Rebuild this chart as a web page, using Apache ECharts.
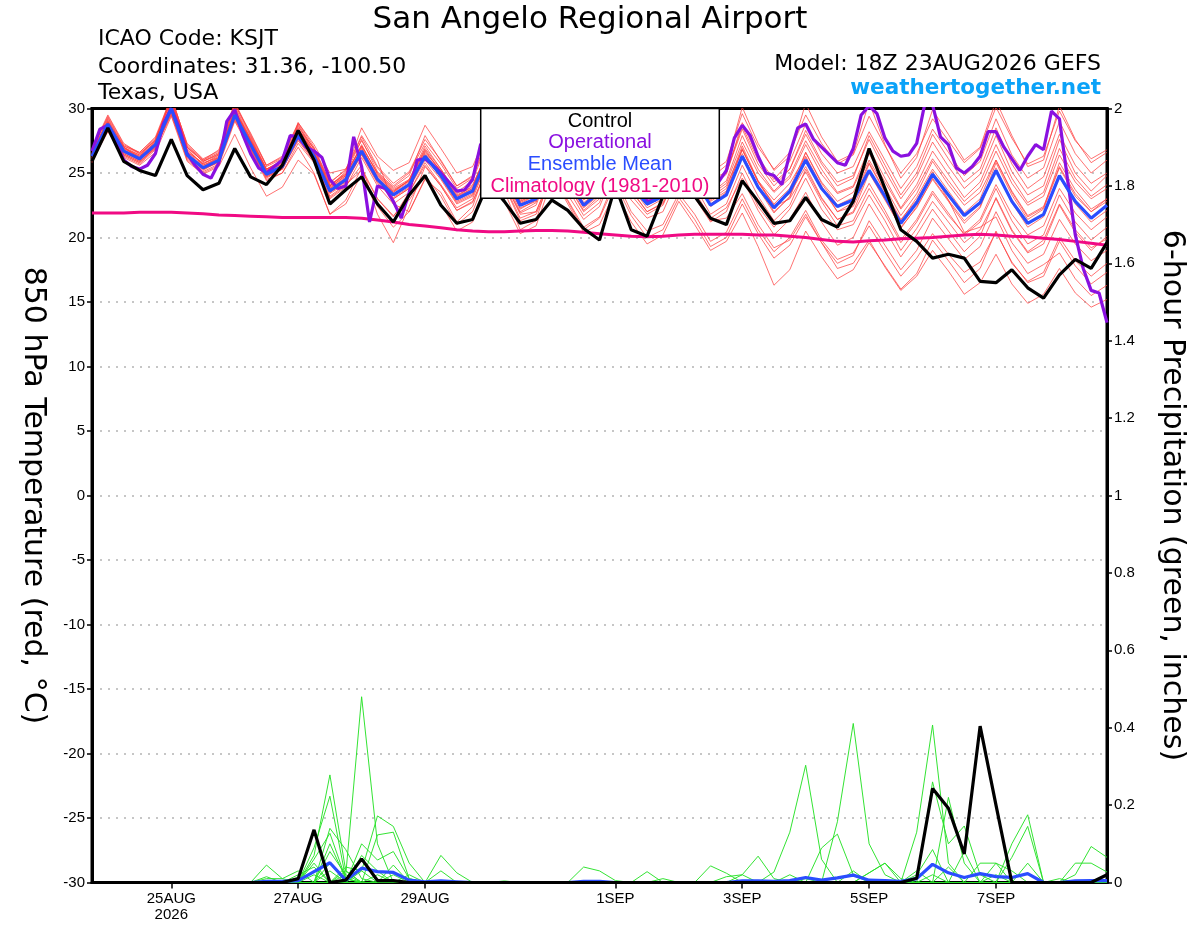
<!DOCTYPE html>
<html>
<head>
<meta charset="utf-8">
<script src="https://cdn.jsdelivr.net/npm/echarts@6/dist/echarts.min.js"></script>
<style>
html,body{margin:0;padding:0;background:#fff;}
#chart{width:1200px;height:927px;}
</style>
</head>
<body>
<div id="chart"></div>
<script>
// ---------------- DATA ----------------
// time axis: hours after 18Z 23AUG2026 (6-hourly steps for ensemble, 3-hourly for operational)
const tickHours = [30, 78, 126, 198, 246, 294, 342];
const tickLabels = ['25AUG\n2026', '27AUG', '29AUG', '1SEP', '3SEP', '5SEP', '7SEP'];

// 850 hPa temperature, 6-hourly (65 values)
const control = [25.9, 28.5,25.9,25.2,24.8, 27.6,24.8,23.7,24.2, 26.9,24.7,24.1,25.6, 28.3,26.0,22.6,23.7,
  24.7,22.6,21.2,23.3, 24.8,22.5,21.1,21.4, 24.3,22.8,21.1,21.4, 22.9,22.1,20.7,19.8,
  24.0,20.6,20.1,23.2, 24.5,23.2,21.5,21.0, 24.4,22.8,21.1,21.3, 23.1,21.4,20.8,22.8,
  26.9,23.8,20.6,19.7, 18.4,18.7,18.4,16.6, 16.5,17.5,16.1,15.3, 17.1,18.3,17.6,19.6];
const ensMean = [26.3, 28.8,26.7,26.1,27.2, 30.0,26.4,25.4,26.0, 29.5,27.2,24.9,25.5, 27.9,26.3,23.6,24.5,
  26.7,24.5,23.3,24.1, 26.3,24.8,23.0,23.6, 26.5,25.0,22.5,23.0, 26.0,24.5,22.5,23.5,
  26.5,24.0,22.6,23.2, 26.0,24.5,22.5,23.3, 26.3,23.9,22.3,23.6, 26.0,23.8,22.4,22.9,
  25.2,23.2,21.1,22.7, 24.9,23.3,21.7,22.7, 25.2,22.8,21.1,21.8, 24.8,22.8,21.5,22.5];
const climatology = [21.9, 21.9,21.9,21.95,21.95, 21.95,21.9,21.85,21.75, 21.7,21.65,21.6,21.55, 21.55,21.55,21.55,21.55,
  21.5,21.35,21.2,21.0, 20.9,20.75,20.6,20.5, 20.45,20.45,20.5,20.55, 20.55,20.5,20.4,20.3,
  20.2,20.1,20.05,20.1, 20.2,20.25,20.25,20.25, 20.25,20.2,20.2,20.1, 20.0,19.85,19.7,19.65,
  19.75,19.8,19.9,19.95, 20.0,20.1,20.2,20.25, 20.2,20.1,20.05,19.95, 19.85,19.7,19.55,19.4];
// operational, 3-hourly (129 values)
const operational = [
  26.7,28.4,28.7,27.5,26.0,25.5,25.3,25.6,
  26.5,28.8,30.0,28.5,26.5,25.6,24.9,24.6,
  25.8,29.0,29.9,28.0,26.5,25.4,25.0,25.5,
  26.0,27.9,27.8,27.0,26.7,26.2,24.5,23.8,
  24.0,27.8,25.5,21.2,24.0,23.8,22.8,21.5,
  23.5,26.0,26.1,25.6,25.0,24.3,23.6,23.7,
  24.5,27.2,28.0,27.0,25.5,24.3,23.5,23.8,
  24.3,26.5,27.5,26.8,25.5,24.3,23.6,23.6,
  24.2,26.5,27.4,26.6,25.0,23.8,22.8,22.9,
  23.8,26.2,27.0,26.4,25.2,24.2,23.5,24.3,
  25.2,27.7,28.7,27.9,26.3,25.0,24.8,24.1,
  26.5,28.5,28.8,27.6,27.0,26.4,25.8,25.6,
  26.9,29.5,30.2,29.6,27.7,26.7,26.3,26.4,
  27.3,30.3,30.3,27.8,27.2,25.4,25.0,25.5,
  26.3,28.2,28.2,27.0,26.1,25.2,26.3,27.2,
  26.8,29.8,29.2,24.6,20.2,17.6,15.9,15.7,
  13.4];

// ensemble members (6-hourly, 65 values each)
const ens01 = [26.0, 28.5,26.9,26.4,27.6, 30.6,27.0,25.9,26.5, 30.2,27.8,25.3,26.0, 28.4,26.9,24.2,25.3, 27.5,25.4,24.0,25.0, 27.3,25.7,23.8,24.6, 27.8,26.2,23.6,24.3, 27.5,25.8,23.8,24.9, 28.1,25.6,24.0,24.7, 27.8,26.2,24.1,25.0, 28.4,25.7,24.0,25.3, 28.3,25.9,24.3,24.8, 27.6,25.2,23.0,24.7, 27.4,25.5,23.8,24.9, 27.9,25.1,23.3,24.0, 27.6,25.0,23.6,24.8];
const ens02 = [26.5, 28.9,26.4,25.8,27.0, 29.6,26.0,25.0,25.6, 29.0,26.8,24.4,25.0, 27.0,25.0,21.8,22.6, 24.9,22.4,20.8,22.0, 24.6,22.6,20.5,21.2, 24.4,22.8,20.3,20.9, 24.5,22.9,20.8,21.6, 24.6,22.0,20.5,21.0, 23.4,21.8,19.7,20.4, 23.0,20.6,18.9,20.0, 22.1,19.8,18.3,18.8, 20.9,18.9,17.0,18.4, 20.3,18.7,17.3,18.1, 20.4,18.1,16.5,17.0, 19.7,17.8,16.4,17.3];
const ens03 = [26.8, 29.3,27.1,26.6,27.8, 30.9,27.2,26.0,26.8, 30.5,28.0,25.6,26.3, 28.8,26.8,24.0,25.0, 27.0,24.6,23.5,24.5, 27.1,25.3,23.5,24.4, 27.6,25.9,23.2,24.0, 27.3,25.5,23.4,24.6, 27.9,25.1,23.7,24.6, 27.9,26.1,23.9,24.9, 28.9,26.2,24.5,25.9, 28.8,26.5,25.0,25.5, 28.2,26.0,23.8,25.5, 28.4,26.6,24.8,25.9, 29.2,26.4,24.6,25.4, 29.0,26.5,25.0,26.0];
const ens04 = [25.9, 28.2,26.3,25.7,26.8, 29.8,26.1,25.1,25.7, 29.2,26.9,24.5,25.0, 27.3,25.8,23.0,23.9, 26.2,24.0,22.6,23.5, 25.6,24.0,22.1,22.8, 25.5,24.1,21.5,22.0, 25.0,23.3,21.4,22.4, 25.3,22.9,21.5,22.0, 24.8,23.1,21.2,22.0, 25.0,22.4,20.8,22.2, 24.6,22.2,20.6,21.0, 23.3,21.3,19.0,20.7, 22.8,21.2,19.6,20.6, 23.0,20.5,18.8,19.5, 22.5,20.4,19.0,20.1];
const ens05 = [26.4, 28.7,27.0,26.2,27.3, 30.2,26.6,25.8,26.2, 29.8,27.6,25.2,25.9, 28.5,26.5,24.0,25.1, 28.5,26.3,25.2,25.8, 28.7,26.9,25.0,25.5, 28.4,26.6,24.0,24.6, 28.0,26.3,24.4,25.5, 28.9,26.4,25.0,25.7, 28.8,27.2,25.0,25.9, 29.6,27.0,25.3,26.6, 29.5,27.3,25.7,26.4, 29.4,27.1,25.0,26.5, 29.2,27.5,25.8,26.9, 30.1,27.7,25.7,26.3, 29.8,27.5,26.1,26.8];
const ens06 = [26.1, 29.0,26.8,26.0,27.1, 30.4,26.9,25.6,26.1, 29.7,27.4,25.0,25.6, 28.0,26.2,23.5,24.3, 26.4,24.2,23.0,23.8, 26.0,24.5,22.6,23.2, 26.2,24.6,22.0,22.7, 25.8,24.2,22.1,23.2, 26.5,23.9,22.3,23.0, 26.1,24.6,22.6,23.5, 26.9,24.3,22.4,23.0, 25.1,22.8,20.9,21.3, 23.8,21.8,19.6,21.2, 23.4,21.7,20.3,21.4, 24.1,21.8,20.2,20.9, 23.8,21.9,20.6,21.6];
const ens07 = [26.6, 28.6,26.5,25.9,26.9, 29.5,26.2,25.2,25.9, 29.3,26.9,24.6,25.3, 28.9,27.2,25.0,25.3, 27.9,26.0,22.6,22.0, 24.5,23.5,21.2,22.4, 25.9,24.3,21.8,22.0, 24.8,22.6,20.4,21.0, 23.6,21.2,19.5,20.2, 22.8,21.0,19.0,19.7, 21.9,19.3,16.3,17.5, 20.5,18.5,16.8,17.5, 19.6,17.8,16.0,17.2, 19.8,18.2,16.5,17.6, 20.5,18.0,16.6,17.3, 20.0,18.2,17.0,18.0];
const ens08 = [25.8, 28.4,26.6,26.2,27.3, 30.3,26.8,25.7,26.4, 29.9,27.5,25.1,25.7, 28.2,26.6,23.8,24.7, 26.9,24.8,23.6,24.4, 26.8,25.1,23.2,24.0, 26.9,25.3,22.8,23.4, 26.6,25.0,23.0,24.0, 27.2,24.6,23.2,24.0, 27.0,25.3,23.1,24.0, 26.8,24.4,22.5,23.4, 25.5,23.1,21.4,22.0, 25.0,22.9,20.8,22.3, 24.6,22.9,21.3,22.4, 25.8,23.3,21.4,22.2, 25.4,23.2,22.0,23.0];
const ens09 = [26.2, 28.9,26.9,26.3,27.4, 30.1,26.5,25.5,26.2, 29.6,27.3,25.0,25.6, 27.9,26.4,23.5,24.4, 26.5,24.4,23.1,23.9, 26.2,24.7,22.8,23.4, 26.3,24.7,22.3,22.8, 25.9,24.3,22.4,23.4, 26.3,23.6,22.0,22.6, 25.2,23.4,21.3,21.5, 23.4,21.0,19.2,19.8, 21.8,19.6,17.6,18.0, 19.8,17.7,15.9,17.0, 19.0,17.4,15.6,16.5, 18.7,16.4,14.9,15.6, 17.6,15.7,14.6,15.2];
const ens10 = [26.9, 29.5,27.3,26.5,27.5, 31.0,27.1,26.0,26.6, 30.4,27.9,25.5,26.1, 28.6,26.9,24.1,24.9, 27.1,25.0,23.8,24.5, 26.9,25.3,23.4,24.1, 26.7,25.3,22.9,23.5, 26.4,24.9,23.0,24.1, 27.1,24.7,23.3,24.0, 26.9,25.4,23.3,24.2, 27.4,25.0,23.5,24.6, 27.2,24.9,23.4,23.9, 26.5,24.3,22.2,23.8, 26.1,24.4,22.8,23.9, 26.7,24.2,22.5,23.2, 26.4,24.3,23.0,23.8];
const ens11 = [26.3, 28.8,26.6,26.0,27.2, 30.5,26.7,25.7,26.3, 29.9,27.7,25.3,25.9, 28.7,26.6,24.0,24.9, 27.6,25.1,23.9,24.8, 27.9,25.9,24.0,24.8, 28.6,26.8,23.9,24.5, 28.3,26.1,24.1,25.2, 29.3,26.5,24.9,25.4, 28.6,27.0,24.6,25.6, 30.1,27.3,25.2,26.3, 30.4,27.8,25.9,26.5, 30.5,27.2,24.6,26.2, 29.9,28.0,26.0,27.0, 30.6,27.9,25.5,26.0, 30.2,27.6,25.8,26.6];
const ens12 = [26.0, 28.3,26.2,25.6,26.6, 29.4,25.9,24.9,25.5, 28.0,25.4,23.2,23.9, 26.0,24.9,21.8,22.9, 25.4,23.0,21.6,23.5, 25.8,24.1,22.3,23.0, 26.1,24.3,21.9,22.5, 25.8,24.1,22.0,23.0, 26.2,23.7,22.0,22.7, 25.7,24.0,21.8,22.6, 25.6,23.2,21.3,22.5, 25.3,23.0,21.4,21.9, 24.2,22.1,19.8,21.4, 23.6,21.9,20.2,21.2, 23.8,21.3,19.5,20.2, 23.3,21.2,19.8,20.8];
const ens13 = [26.7, 29.1,27.0,26.4,27.5, 30.7,27.0,25.9,26.5, 30.1,27.6,25.3,25.8, 28.3,26.7,23.9,24.8, 27.2,24.9,23.6,24.4, 26.7,25.1,23.1,23.8, 26.8,25.2,22.7,23.3, 26.4,24.7,22.7,23.7, 26.9,24.2,22.8,23.5, 26.3,24.8,22.6,23.3, 26.5,24.0,22.0,23.1, 26.2,23.8,22.0,22.4, 25.1,23.0,20.7,22.4, 24.5,22.8,21.1,22.3, 25.4,22.7,20.8,21.6, 24.7,22.6,21.2,22.1];
const ens14 = [26.4, 28.6,26.4,25.8,26.9, 29.7,26.3,25.3,25.9, 29.1,27.0,24.8,25.3, 27.5,25.9,23.1,24.0, 25.6,21.8,19.6,22.4, 25.5,24.0,22.1,22.7, 25.7,24.0,21.3,21.8, 24.6,22.8,20.6,21.5, 24.2,21.7,20.0,20.6, 23.1,21.4,19.3,20.0, 22.6,20.3,18.4,19.4, 21.6,19.6,18.0,18.6, 21.3,19.4,17.5,19.0, 21.5,19.9,18.3,19.3, 22.0,19.6,18.0,18.7, 21.4,19.5,18.2,19.0];
const ens15 = [26.2, 28.7,26.8,26.3,27.4, 30.3,26.6,25.6,26.2, 29.8,27.5,25.2,25.7, 28.1,26.5,23.8,24.6, 26.8,24.7,23.5,24.3, 26.5,25.0,23.2,23.8, 27.0,25.3,22.8,23.4, 26.7,25.0,23.0,24.0, 27.4,24.8,23.3,24.1, 27.2,25.5,23.4,24.4, 27.9,25.3,23.6,24.8, 27.5,25.3,23.5,24.0, 26.9,24.6,22.3,24.1, 26.7,24.9,23.1,24.3, 27.2,24.6,22.7,23.5, 26.9,24.6,23.2,24.1];
const ens16 = [26.5, 29.2,27.0,26.1,27.0, 30.0,26.4,25.4,26.0, 29.5,27.1,24.8,25.4, 27.8,26.2,23.5,24.4, 26.6,24.5,23.3,24.1, 26.4,24.8,22.9,23.6, 26.6,25.0,22.5,23.1, 26.1,24.5,22.6,23.6, 26.7,24.2,22.8,23.4, 26.4,24.9,22.8,23.6, 26.8,24.3,22.6,23.8, 26.6,24.2,22.5,23.1, 25.8,23.6,21.4,22.9, 25.1,22.9,20.4,20.8, 21.6,19.0,17.2,17.9, 18.8,16.8,15.5,16.3];
const ens17 = [25.9, 28.5,26.5,25.9,27.0, 29.9,26.3,25.3,25.8, 29.4,27.0,24.7,25.3, 27.7,26.1,23.4,24.2, 26.5,24.3,23.0,23.8, 26.3,24.6,22.7,23.3, 26.4,24.8,22.2,22.9, 26.0,24.4,22.3,23.3, 26.6,24.1,22.5,23.2, 26.2,24.5,22.4,23.3, 26.2,23.8,21.9,23.2, 26.6,24.3,22.8,23.5, 26.0,23.9,21.7,23.4, 25.9,24.1,22.5,23.5, 26.0,23.6,21.7,22.4, 25.5,23.4,22.0,22.8];
const ens18 = [26.6, 29.0,27.1,26.5,27.6, 30.8,27.3,26.1,26.7, 30.3,28.1,25.6,26.2, 28.9,27.0,24.3,25.2, 27.8,25.5,24.2,25.1, 27.6,26.0,24.0,24.7, 28.0,26.4,23.7,24.4, 27.6,25.9,23.9,25.0, 28.4,25.9,24.4,25.0, 28.2,26.6,24.4,25.1, 28.6,26.0,24.3,25.3, 28.0,25.7,24.0,24.6, 27.9,25.6,23.3,25.0, 28.0,26.1,24.3,25.3, 28.5,25.7,23.8,24.7, 28.0,25.6,24.2,25.0];
const ens19 = [26.3, 28.8,26.7,26.0,27.1, 30.1,26.4,25.3,25.9, 29.4,27.1,24.7,25.3, 27.6,26.0,23.2,24.1, 25.2,23.0,21.7,22.9, 24.8,23.2,21.0,22.0, 25.1,23.6,20.6,21.3, 25.4,23.8,21.7,22.7, 25.8,23.3,21.8,22.5, 25.3,23.6,21.5,22.3, 24.6,22.1,20.2,21.4, 23.5,21.2,19.4,20.0, 22.6,20.6,18.5,20.2, 22.2,20.5,18.9,20.1, 23.1,20.6,18.9,19.8, 22.6,20.6,19.2,19.9];
const ens20 = [26.8, 29.4,27.2,26.6,27.7, 30.6,27.0,25.9,26.4, 29.9,27.5,25.3,25.9, 28.2,26.6,23.9,24.8, 27.1,25.0,23.7,24.4, 26.6,25.2,23.3,23.9, 26.9,25.1,22.6,23.3, 26.3,24.8,22.9,23.8, 26.9,24.4,22.9,23.7, 26.6,25.0,22.9,23.8, 27.1,24.4,22.9,24.2, 26.3,24.0,22.0,22.7, 25.7,23.5,21.3,23.1, 25.3,23.6,21.9,23.0, 26.0,23.5,21.6,22.3, 25.8,23.7,22.2,23.0];
const tempMembers = [ens01, ens02, ens03, ens04, ens05, ens06, ens07, ens08, ens09, ens10,
                     ens11, ens12, ens13, ens14, ens15, ens16, ens17, ens18, ens19, ens20];

// 6-hour precipitation (inches); listed as {step index: value}, all other steps are 0
const controlPrecip = {13:0.01,14:0.136,16:0.006,17:0.061,18:0.005,19:0.005,52:0.011,53:0.243,54:0.192,55:0.074,56:0.404,57:0.2,64:0.02};
const meanPrecip = {11:0.003,12:0.003,13:0.005,14:0.028,15:0.051,16:0.006,17:0.037,18:0.028,19:0.026,20:0.006,21:0.002,22:0.004,23:0.002,31:0.003,32:0.003,41:0.004,42:0.004,43:0.003,44:0.005,45:0.013,46:0.006,47:0.012,48:0.019,49:0.006,50:0.005,51:0.003,52:0.01,53:0.047,54:0.025,55:0.013,56:0.023,57:0.015,58:0.013,59:0.023,62:0.004,63:0.005,64:0.005};
const pr01 = {14:0.07,15:0.278,16:0.03,43:0.027,44:0.13,45:0.303,46:0.06};
const pr02 = {16:0.02,17:0.48,18:0.1,52:0.13,53:0.407,54:0.05};
const pr03 = {14:0.09,15:0.223,16:0.01,47:0.157,48:0.411,49:0.1,50:0.02};
const pr04 = {17:0.03,18:0.172,19:0.145,20:0.05,54:0.22,55:0.05};
const pr05 = {15:0.14,16:0.085,17:0.01,53:0.26,54:0.1,55:0.146,56:0.02};
const pr06 = {11:0.045,12:0.01,18:0.123,19:0.13,20:0.01,58:0.1,59:0.175};
const pr07 = {14:0.06,15:0.127,16:0.01,22:0.07,23:0.025,46:0.089,47:0.125,48:0.02};
const pr08 = {17:0.1,18:0.058,19:0.08,20:0.01,58:0.065,59:0.145};
const pr09 = {15:0.1,16:0.01,31:0.04,32:0.03,33:0.005,62:0.02,63:0.093,64:0.065};
const pr10 = {15:0.08,16:0.02,35:0.028,39:0.043,40:0.024,49:0.025,50:0.05};
const pr11 = {14:0.05,19:0.045,41:0.02,42:0.068,43:0.01,62:0.05,63:0.05,64:0.027};
const pr12 = {13:0.02,14:0.04,22:0.03,52:0.02,53:0.085,57:0.05};
const pr13 = {11:0.015,16:0.04,17:0.03,56:0.05,57:0.05,58:0.03};
const pr14 = {11:0.01,12:0.01,13:0.03,49:0.025,50:0.05,51:0.01};
const pr15 = {15:0.05,17:0.06,26:0.004,45:0.01,59:0.05};
const pr16 = {16:0.03,18:0.02,40:0.015,41:0.02,55:0.08};
const pr17 = {20:0.02,52:0.03,54:0.04,61:0.01};
const pr18 = {17:0.07,18:0.03,44:0.02,48:0.03};
const pr19 = {15:0.03,53:0.02,57:0.02};
const pr20 = {14:0.02,19:0.02,36:0.01};
const precipMembers = [pr01, pr02, pr03, pr04, pr05, pr06, pr07, pr08, pr09, pr10,
                       pr11, pr12, pr13, pr14, pr15, pr16, pr17, pr18, pr19, pr20];

// ---------------- BUILD ----------------
const NSTEP = 65, STEP_H = 6, OP_STEP_H = 3;
function six(arr) { return arr.map((v, i) => [i * STEP_H, v]); }
function three(arr) { return arr.map((v, i) => [i * OP_STEP_H, v]); }
function sparse(obj) { const a = []; for (let i = 0; i < NSTEP; i++) a.push([i * STEP_H, obj[i] !== undefined ? obj[i] : 0]); return a; }
const labelMap = {}; tickHours.forEach((h, k) => labelMap[h] = tickLabels[k]);

const RED = 'rgba(255,60,60,0.72)';
const GREEN = 'rgba(40,225,40,0.95)';
const BLACK = '#000000';
const PURPLE = '#8a10e0';
const BLUE = '#2a4dff';
const MAGENTA = '#f00a84';

function lineSeries(name, data, color, width, yIdx, z) {
  return { name: name, type: 'line', data: data, yAxisIndex: yIdx, symbol: 'none', showSymbol: false,
    lineStyle: { color: color, width: width }, itemStyle: { color: color }, z: z, silent: true,
    animation: false, clip: true };
}

const series = [];
tempMembers.forEach((m, k) => series.push(lineSeries('Member ' + (k + 1), six(m), RED, 1, 0, 2)));
precipMembers.forEach((m, k) => series.push(lineSeries('Precip member ' + (k + 1), sparse(m), GREEN, 1, 1, 2)));
series.push(lineSeries('Climatology (1981-2010)', six(climatology), MAGENTA, 3, 0, 3));
series.push(lineSeries('Operational', three(operational), PURPLE, 3.2, 0, 4));
series.push(lineSeries('Ensemble Mean', six(ensMean), BLUE, 3.2, 0, 5));
series.push(lineSeries('Control', six(control), BLACK, 3.2, 0, 6));
series.push(lineSeries('Ensemble Mean precip', sparse(meanPrecip), BLUE, 3.2, 1, 5));
series.push(lineSeries('Control precip', sparse(controlPrecip), BLACK, 3.2, 1, 6));

const HEAD = '"DejaVu Sans", "Liberation Sans", sans-serif';
const BODY = '"Liberation Sans", Arial, sans-serif';

const option = {
  backgroundColor: '#ffffff',
  animation: false,
  grid: { left: 92, right: 93, top: 108.5, bottom: 44.5, show: true, borderColor: '#000', borderWidth: 3,
          backgroundColor: 'transparent', containLabel: false, outerBoundsMode: 'none' },
  xAxis: [{
    type: 'value', min: 0, max: 384, position: 'bottom',
    splitLine: { show: false },
    axisLine: { show: true, onZero: false, lineStyle: { color: '#000', width: 3 } },
    axisTick: { show: true, customValues: tickHours, length: 6, lineStyle: { color: '#000', width: 1.5 } },
    axisLabel: { show: true, customValues: tickHours, formatter: v => labelMap[v] || '',
                 fontFamily: BODY, fontSize: 15, color: '#000', margin: 8, lineHeight: 16 }
  }, {
    type: 'value', min: 0, max: 384, position: 'top',
    splitLine: { show: false }, axisTick: { show: false }, axisLabel: { show: false },
    axisLine: { show: true, onZero: false, lineStyle: { color: '#000', width: 3 } }
  }],
  yAxis: [
    { type: 'value', min: -30, max: 30, interval: 5, position: 'left',
      name: '850 hPa Temperature (red, \u00B0C)', nameLocation: 'middle', nameRotate: -90, nameGap: 44,
      nameTextStyle: { fontFamily: HEAD, fontSize: 30, color: '#000' },
      axisLine: { show: true, onZero: false, lineStyle: { color: '#000', width: 3 } },
      axisTick: { show: true, length: 5, lineStyle: { color: '#000', width: 1.5 } },
      axisLabel: { fontFamily: BODY, fontSize: 15, color: '#000', margin: 7 },
      splitLine: { show: true, showMinLine: false, showMaxLine: false,
                   lineStyle: { color: '#b4b4b4', width: 1.5, type: [2, 6] } } },
    { type: 'value', min: 0, max: 2, interval: 0.2, position: 'right',
      name: '6-hour Precipitation (green, inches)', nameLocation: 'middle', nameRotate: -90, nameGap: 50,
      nameTextStyle: { fontFamily: HEAD, fontSize: 30, color: '#000' },
      axisLine: { show: true, onZero: false, lineStyle: { color: '#000', width: 3 } },
      axisTick: { show: true, length: 5, lineStyle: { color: '#000', width: 1.5 } },
      axisLabel: { fontFamily: BODY, fontSize: 15, color: '#000', margin: 7,
                   formatter: v => String(Math.round(v * 10) / 10) },
      splitLine: { show: false } }
  ],
  graphic: [
    { type: 'text', x: 590, y: 19.5, z: 100, style: { text: 'San Angelo Regional Airport', fill: '#000',
      font: '31px ' + HEAD, align: 'center', verticalAlign: 'middle' } },
    { type: 'text', x: 98, y: 39.5, z: 100, style: { text: 'ICAO Code: KSJT', fill: '#000',
      font: '22px ' + HEAD, align: 'left', verticalAlign: 'middle' } },
    { type: 'text', x: 98, y: 67.5, z: 100, style: { text: 'Coordinates: 31.36, -100.50', fill: '#000',
      font: '22px ' + HEAD, align: 'left', verticalAlign: 'middle' } },
    { type: 'text', x: 98, y: 93, z: 100, style: { text: 'Texas, USA', fill: '#000',
      font: '22px ' + HEAD, align: 'left', verticalAlign: 'middle' } },
    { type: 'text', x: 1101, y: 64, z: 100, style: { text: 'Model: 18Z 23AUG2026 GEFS', fill: '#000',
      font: '22px ' + HEAD, align: 'right', verticalAlign: 'middle' } },
    { type: 'text', x: 1101, y: 88, z: 100, style: { text: 'weathertogether.net', fill: '#0aa2f8',
      font: 'bold 21.5px ' + HEAD, align: 'right', verticalAlign: 'middle' } },
    { type: 'rect', z: 100, shape: { x: 480.7, y: 108.5, width: 238.6, height: 89.8 },
      style: { fill: '#ffffff', stroke: '#000', lineWidth: 1.5 } },
    { type: 'text', x: 600, y: 121, z: 101, style: { text: 'Control', fill: BLACK,
      font: '20px ' + BODY, align: 'center', verticalAlign: 'middle' } },
    { type: 'text', x: 600, y: 142, z: 101, style: { text: 'Operational', fill: PURPLE,
      font: '20px ' + BODY, align: 'center', verticalAlign: 'middle' } },
    { type: 'text', x: 600, y: 164, z: 101, style: { text: 'Ensemble Mean', fill: BLUE,
      font: '20px ' + BODY, align: 'center', verticalAlign: 'middle' } },
    { type: 'text', x: 600, y: 186, z: 101, style: { text: 'Climatology (1981-2010)', fill: MAGENTA,
      font: '20px ' + BODY, align: 'center', verticalAlign: 'middle' } }
  ],
  series: series
};

const chart = echarts.init(document.getElementById('chart'), null, { renderer: 'canvas' });
chart.setOption(option);
</script>
</body>
</html>
